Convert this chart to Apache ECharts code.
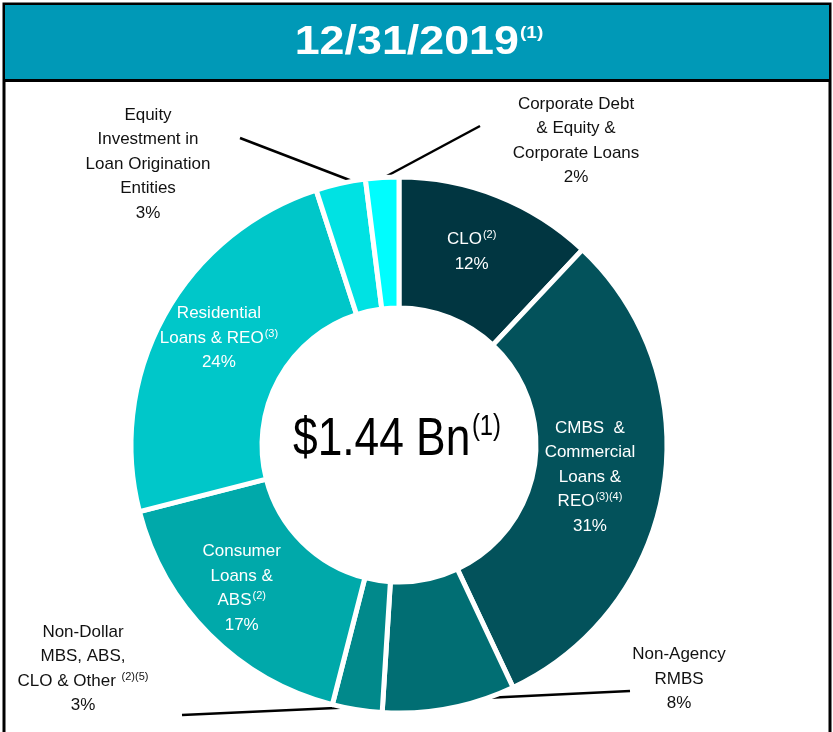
<!DOCTYPE html>
<html>
<head>
<meta charset="utf-8">
<script src="https://cdn.jsdelivr.net/npm/echarts@6/dist/echarts.min.js"></script>
<style>
  html, body { margin: 0; padding: 0; background: #fff; }
  #main { width: 833px; height: 732px; }
</style>
</head>
<body>
<div id="main"></div>
<script>
// values (share of portfolio, %)
const names = ['CLO', 'CMBS', 'NonAgency', 'NonDollar', 'Consumer', 'Residential', 'EquityInv', 'Corporate'];
const values = [12, 31, 8, 3, 17, 24, 3, 2];
const labelTexts = [
    'CLO{s|(2)}\n12%',
    'CMBS  &\nCommercial\nLoans &\nREO{s|(3)(4)}\n31%',
    'Non-Agency\nRMBS\n8%',
    'Non-Dollar\nMBS, ABS,\nCLO & Other {s|(2)(5)}\n3%',
    'Consumer\nLoans &\nABS{s|(2)}\n17%',
    'Residential\nLoans & REO{s|(3)}\n24%',
    'Equity\nInvestment in\nLoan Origination\nEntities\n3%',
    'Corporate Debt\n& Equity &\nCorporate Loans\n2%'
];
const colors = ['#013641', '#03525b', '#016e73', '#01898b', '#00a9aa', '#00c7c9', '#00e2e3', '#00fdfe'];
const titleText = '12/31/2019';
const centerText = '$1.44 Bn';

const FONT = '"Liberation Sans Narrow", "Liberation Sans", Arial, sans-serif';

// where the outside labels sit, and their leader lines
const outside = {
    NonAgency: { x: 679, y: 679, line: [[464, 699], [630, 691]] },
    NonDollar: { x: 83, y: 669, line: [[357, 707], [182, 715]] },
    EquityInv: { x: 148, y: 164, line: [[352, 181], [240, 138]] },
    Corporate: { x: 576, y: 141, line: [[385, 177], [480, 126]] }
};
// small nudges for the inside labels
const nudge = {
    CLO: { dx: -3, dy: -2 },
    CMBS: { dx: -12, dy: 0 },
    Consumer: { dx: -12, dy: -2 },
    Residential: { dx: 0, dy: -8 }
};

function buildData() {
    var data = [];
    for (var i = 0; i < names.length; i++) {
        var isOut = !!outside[names[i]];
        data.push({
            name: names[i],
            value: values[i],
            itemStyle: { color: colors[i] },
            label: {
                formatter: labelTexts[i],
                color: isOut ? '#111' : '#fff',
                position: isOut ? 'outside' : 'inside'
            },
            labelLine: { show: isOut }
        });
    }
    return data;
}

var myChart = echarts.init(document.getElementById('main'), null, { renderer: 'canvas' });
var option = {
    animation: false,
    graphic: [
        { type: 'rect', shape: { x: 4, y: 4, width: 826, height: 760 }, style: { fill: '#fff', stroke: '#000', lineWidth: 3 }, z: -10 },
        { type: 'rect', shape: { x: 5, y: 5, width: 824, height: 75 }, style: { fill: '#0099b7' }, z: -9 },
        { type: 'line', shape: { x1: 4, y1: 80.5, x2: 830, y2: 80.5 }, style: { stroke: '#000', lineWidth: 3 }, z: -8 },
        {
            type: 'text', x: 419, y: 43, scaleX: 1.12,
            style: {
                text: '{t|' + titleText + '}{s|(1)}',
                align: 'center', verticalAlign: 'middle',
                rich: {
                    t: { fontFamily: FONT, fontWeight: 'bold', fontSize: 40, fill: '#fff', lineHeight: 42 },
                    s: { fontFamily: FONT, fontWeight: 'bold', fontSize: 17, fill: '#fff', lineHeight: 42, padding: [0, 0, 20, 1] }
                }
            }
        },
        {
            type: 'text', x: 397, y: 440, scaleX: 0.82,
            style: {
                text: '{t|' + centerText + '}{s|(1)}',
                align: 'center', verticalAlign: 'middle',
                rich: {
                    t: { fontFamily: FONT, fontSize: 54, fill: '#000', lineHeight: 58 },
                    s: { fontFamily: FONT, fontSize: 29, fill: '#000', lineHeight: 58, padding: [0, 0, 26, 2] }
                }
            }
        }
    ],
    series: [{
        type: 'pie',
        center: [399, 445],
        radius: [137, 268],
        startAngle: 90,
        clockwise: true,
        avoidLabelOverlap: false,
        itemStyle: { borderColor: '#fff', borderWidth: 5 },
        label: {
            fontFamily: FONT,
            fontSize: 17,
            lineHeight: 24.5,
            align: 'center',
            rich: {
                s: { fontFamily: FONT, fontSize: 11, padding: [0, 0, 9, 1] }
            }
        },
        labelLine: { lineStyle: { color: '#000', width: 2.5 } },
        labelLayout: function (params) {
            var name = names[params.dataIndex];
            var o = outside[name];
            if (o) {
                return { x: o.x, y: o.y, align: 'center', verticalAlign: 'middle', labelLinePoints: o.line };
            }
            var n = nudge[name];
            if (n) {
                return { x: params.labelRect.x + params.labelRect.width / 2 + n.dx, y: params.labelRect.y + params.labelRect.height / 2 + n.dy, align: 'center', verticalAlign: 'middle' };
            }
            return {};
        },
        data: buildData()
    }]
};
myChart.setOption(option);
</script>
</body>
</html>
